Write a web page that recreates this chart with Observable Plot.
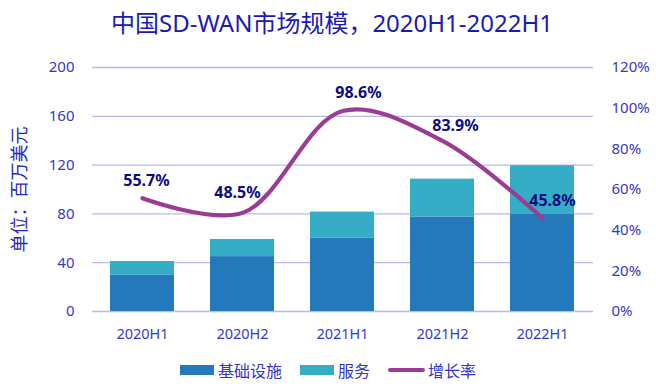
<!DOCTYPE html>
<html>
<head>
<meta charset="utf-8">
<script src="https://cdn.jsdelivr.net/npm/d3@7"></script>
<script src="https://cdn.jsdelivr.net/npm/@observablehq/plot@0.6"></script>
<style>
  html, body { margin: 0; padding: 0; background: #fff; }
  body { width: 656px; height: 390px; overflow: hidden; font-family: "Noto Sans", "Noto Sans CJK SC", sans-serif; }
  #title { height: 50px; line-height: 46px; text-align: center; font-size: 24px; color: #1a1ab4; font-family: "Noto Sans", "Noto Sans CJK SC", sans-serif; padding-left: 8px; box-sizing: border-box; }
  #legend { height: 40px; display: flex; justify-content: center; align-items: center; font-size: 16px; color: #3333c4; gap: 0; padding-left: 0px; }
  .item { display: flex; align-items: center; margin: 0 9px; }
  .sw { width: 34px; height: 10px; margin-right: 4px; }
  .ln { width: 37px; height: 4px; border-radius: 2px; margin-right: 3px; }
</style>
</head>
<body>
<div id="title">中国SD-WAN市场规模，2020H1-2022H1</div>
<div id="chart"></div>
<div id="legend"></div>
<script>
const periods = ["2020H1", "2020H2", "2021H1", "2021H2", "2022H1"];
const infrastructure = [30, 45, 60, 77.5, 80];
const services = [11, 14, 21.5, 31, 39.5];
const growthRate = [0.557, 0.485, 0.986, 0.839, 0.458];
const growthLabels = ["55.7%", "48.5%", "98.6%", "83.9%", "45.8%"];
const seriesNames = ["基础设施", "服务", "增长率"];
const leftTicks = [0, 40, 80, 120, 160, 200];
const rightTicks = [0, 0.2, 0.4, 0.6, 0.8, 1.0, 1.2];

const colors = { infra: "#2479ba", svc: "#36adc6", line: "#9b3c94", tick: "#3838c4", label: "#0c0c80", grid: "#b8b8f2" };

// map right-axis percentage onto the left-axis domain (0–120% ↔ 0–200)
const pctToLeft = p => p * 200 / 1.2;

const bars = [
  ...periods.map((p, i) => ({ period: p, series: seriesNames[0], value: infrastructure[i] })),
  ...periods.map((p, i) => ({ period: p, series: seriesNames[1], value: services[i] }))
];
const rates = periods.map((p, i) => ({ period: p, rate: growthRate[i], label: growthLabels[i] }));

// label placement offsets (layout only)
const labelOffsets = [[4, -17], [-5, -20], [16, -18], [13, -15], [10, -17]];

const font = '"Noto Sans", "Noto Sans CJK SC", sans-serif';

const chart = Plot.plot({
  width: 656,
  height: 300,
  marginTop: 17,
  marginBottom: 39,
  marginLeft: 92,
  marginRight: 63,
  style: { fontFamily: font, background: "transparent" },
  x: { domain: periods, paddingInner: 0.357, paddingOuter: 0.1785, label: null },
  y: { domain: [0, 200], label: null },
  color: { domain: seriesNames.slice(0, 2), range: [colors.infra, colors.svc] },
  marks: [
    Plot.gridY(leftTicks, { stroke: colors.grid, strokeOpacity: 1, strokeWidth: 1.3 }),
    Plot.barY(bars, { x: "period", y: "value", fill: "series", order: seriesNames.slice(0, 2) }),
    Plot.line(rates, { x: "period", y: d => pctToLeft(d.rate), stroke: colors.line, strokeWidth: 4.2, curve: "catmull-rom" }),
    ...rates.map((d, i) => Plot.text([d], {
      x: "period", y: r => pctToLeft(r.rate), text: "label",
      dx: labelOffsets[i][0], dy: labelOffsets[i][1],
      fill: colors.label, fontWeight: "bold", fontSize: 16, fontFamily: font
    })),
    Plot.axisY(leftTicks, { anchor: "left", tickSize: 0, tickPadding: 18, fontSize: 15, color: colors.tick, label: null }),
    Plot.axisY(rightTicks.map(pctToLeft), { anchor: "right", tickSize: 0, tickPadding: 18, fontSize: 15, color: colors.tick, label: null, tickFormat: v => Math.round(v * 1.2 / 200 * 100) + "%" }),
    Plot.axisX({ anchor: "bottom", tickSize: 0, tickPadding: 17, fontSize: 14.5, color: colors.tick, label: null }),
    Plot.text(["单位：百万美元"], { frameAnchor: "left", textAnchor: "middle", dx: -72, rotate: -90, fontSize: 18, fill: "#2a2ab8", fontFamily: font })
  ]
});
document.getElementById("chart").appendChild(chart);

const legend = document.getElementById("legend");
const items = [
  { name: seriesNames[0], html: `<div class="sw" style="background:${colors.infra}"></div>` },
  { name: seriesNames[1], html: `<div class="sw" style="background:${colors.svc}"></div>` },
  { name: seriesNames[2], html: `<div class="ln" style="background:${colors.line}"></div>` }
];
legend.innerHTML = items.map(it => `<div class="item">${it.html}<span>${it.name}</span></div>`).join("");
</script>
</body>
</html>
